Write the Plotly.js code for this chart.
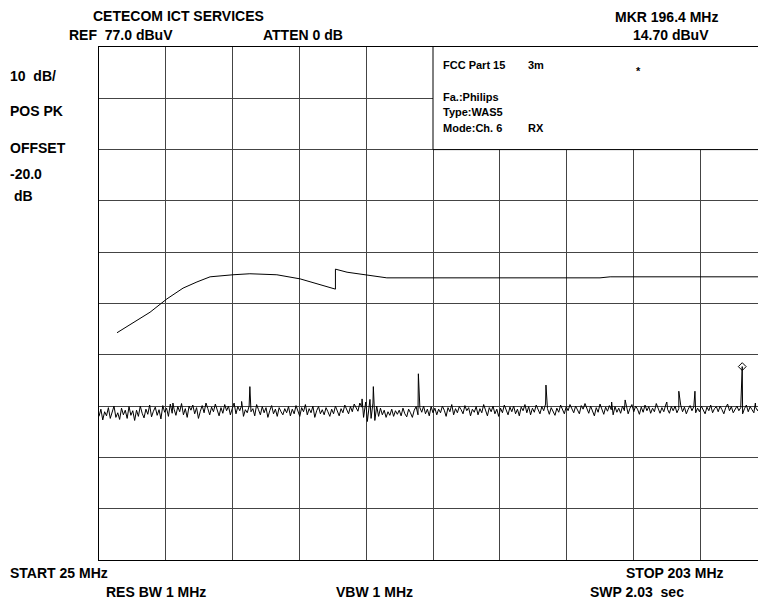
<!DOCTYPE html>
<html>
<head>
<meta charset="utf-8">
<script src="https://cdn.plot.ly/plotly-3.0.1.min.js"></script>
<style>html,body{margin:0;padding:0;background:#fff;}#chart{width:758px;height:603px;}</style>
</head>
<body>
<div id="chart"></div>
<script>
// ---- Data ----
const sweepStart = 25;      // MHz, first sweep point
const sweepStep = 0.5;      // MHz between sweep points
const noiseLevel = [
5.0,6.4,4.3,5.9,5.1,6.7,4.6,6.0,7.0,4.8,5.7,4.4,6.6,5.3,6.2,4.6,6.9,5.2,6.1,4.2,
6.2,5.0,7.0,5.6,4.7,6.4,5.4,7.2,4.9,6.0,6.8,5.2,6.3,4.5,7.1,5.8,6.6,5.0,7.4,5.6,
6.4,5.2,6.9,5.9,7.5,5.3,6.5,4.8,7.0,6.2,7.2,5.5,6.7,4.6,6.0,7.1,5.7,7.6,6.5,5.3,
6.8,5.9,7.4,6.2,5.1,6.7,5.6,7.3,6.1,7.0,5.3,6.5,7.6,5.5,6.9,6.1,7.1,5.0,6.3,5.7,
7.0,5.9,6.5,5.1,7.3,6.3,5.3,6.9,5.7,6.7,4.8,6.1,7.1,5.5,6.4,5.0,6.7,5.9,5.3,6.5,
5.7,6.9,5.1,6.4,5.5,7.1,6.1,5.0,6.7,5.9,7.3,5.3,6.5,5.7,7.0,4.8,6.1,6.9,5.5,6.3,
5.3,6.7,5.9,5.0,6.4,5.5,7.0,6.1,5.1,6.5,5.7,7.2,6.3,5.5,6.9,5.9,7.4,6.6,6.0,7.6,
6.8,4.8,7.4,4.0,7.2,4.6,7.6,4.2,7.0,5.0,6.6,5.3,6.2,4.8,5.9,5.2,6.4,5.0,6.1,5.4,
6.2,5.1,6.6,5.5,4.9,6.4,5.7,4.8,6.2,6.9,5.3,6.7,5.8,7.0,5.5,6.4,5.1,6.9,5.7,6.6,
5.3,6.4,5.7,7.0,6.2,5.0,6.7,5.9,7.3,5.3,6.5,5.7,6.9,6.3,5.5,7.1,6.1,6.7,5.1,6.4,
5.8,6.9,5.3,6.5,5.7,7.3,6.1,5.1,6.7,5.9,7.0,5.5,6.4,5.0,6.6,5.7,7.2,6.1,5.3,6.8,
5.9,7.0,5.5,6.4,5.1,6.8,6.1,7.3,5.7,6.9,5.3,6.6,5.8,7.2,6.3,5.5,6.9,6.1,7.4,6.5,
5.4,6.7,6.0,5.2,6.6,5.8,7.2,6.3,5.5,6.9,6.1,7.3,6.5,5.7,7.0,6.2,5.5,7.1,6.4,7.5,
6.4,5.6,7.0,6.0,5.1,6.7,5.8,7.4,6.2,5.4,6.8,6.0,7.1,6.3,5.3,6.9,5.8,6.6,5.6,7.0,
6.1,6.9,5.5,6.6,7.3,5.9,7.0,6.4,5.4,6.8,5.8,7.2,6.1,6.9,5.6,6.6,5.9,7.5,6.4,5.6,
6.7,5.9,7.2,6.4,5.6,6.9,6.1,7.0,5.7,6.5,7.2,5.9,6.8,5.5,6.4,7.1,6.1,6.9,5.7,6.6,
5.9,7.0,6.3,5.5,6.8,6.1,7.2,5.7,6.5,6.9,5.9,7.0,6.3,5.5,6.7,7.4,6.1,6.9,5.7,6.5,
7.0,6.1,6.7,5.5,6.5,7.2,5.9,6.9,6.3,5.7,6.7,6.1,7.0,5.9,6.5,5.5,6.9,6.3,5.7,6.7
];
const spikeFreq  = [44.7, 63.0, 65.2, 95.1, 96.1, 97.2, 98.1, 110.1, 144.1, 161.6, 165.2, 176.3, 179.5, 183.8, 196.4, 199.9];
const spikeLevel = [7.6,  7.9,  10.8, 8.4,  7.8,  8.3,  10.8, 13.3,  11.1,  7.8,   8.2,   7.8,   9.9,   9.9,   14.7,  7.6];

const limitFreq  = [29.8, 34.1, 38.6, 43.1, 47.4, 51.1, 54.6, 60.7, 65.2, 72.4, 78.6, 88.0, 88.0, 91.1, 96.4, 101.7, 158.5, 161.2, 200.6];
const limitLevel = [21.3, 23.2, 25.3, 27.9, 30.0, 31.2, 32.2, 32.6, 32.8, 32.6, 31.8, 29.8, 33.7, 33.1, 32.6, 32.0, 32.0, 32.2, 32.2];

const markerFreq  = [196.4];
const markerLevel = [14.7];

const refLevel = 77;   // dBuV top of screen
const dbPerDiv = 10;
const startFreq = 25, stopFreq = 203;

// ---- Build trace ----
const pts = [];
noiseLevel.forEach((v, i) => pts.push([sweepStart + sweepStep * i, v]));
spikeFreq.forEach((f, i) => pts.push([f, spikeLevel[i]]));
pts.sort((a, b) => a[0] - b[0]);

const FONT = 'Liberation Sans, Arial, Helvetica, sans-serif';
const plotL = 99, plotT = 47, plotB = 560, plotR = 758;
const fullWidthPx = 668; // 10 divisions, screen cropped on the right
const xMax = startFreq + (stopFreq - startFreq) * (plotR - plotL) / fullWidthPx;

const traces = [
  {x: pts.map(p => p[0]), y: pts.map(p => p[1]), mode: 'lines', type: 'scatter',
   line: {color: '#000', width: 1}, hoverinfo: 'skip'},
  {x: limitFreq, y: limitLevel, mode: 'lines', type: 'scatter',
   line: {color: '#000', width: 1}, hoverinfo: 'skip'},
  {x: markerFreq, y: markerLevel, mode: 'markers', type: 'scatter',
   marker: {symbol: 'diamond-open', size: 6, color: '#000', line: {width: 1, color: '#000'}}, hoverinfo: 'skip'}
];

function ann(text, px, py, size) {
  return {text: '<b>' + text + '</b>', xref: 'paper', yref: 'paper', x: 0, y: 1,
    xanchor: 'left', yanchor: 'middle', xshift: px - plotL - 2, yshift: plotT - py,
    showarrow: false, font: {family: FONT, size: size || 14, color: '#000'}};
}
const nb = '\u00a0';
const annotations = [
  ann('CETECOM ICT SERVICES', 93, 16),
  ann('REF' + nb + nb + '77.0 dBuV', 69, 35),
  ann('ATTEN 0 dB', 263, 35),
  ann('MKR 196.4 MHz', 615, 17),
  ann('14.70 dBuV', 633, 35),
  ann('10' + nb + nb + 'dB/', 10, 76),
  ann('POS PK', 10, 111),
  ann('OFFSET', 10, 148),
  ann('-20.0', 10, 174),
  ann(nb + 'dB', 10, 196),
  ann('START 25 MHz', 10, 573),
  ann('STOP 203 MHz', 626, 573),
  ann('RES BW 1 MHz', 106, 592),
  ann('VBW 1 MHz', 336, 592),
  ann('SWP 2.03' + nb + nb + 'sec', 590, 592),
  ann('FCC Part 15', 443, 65, 11),
  ann('3m', 528, 65, 11),
  ann('*', 636, 71, 11),
  ann('Fa.:Philips', 443, 97, 11),
  ann('Type:WAS5', 443, 112, 11),
  ann('Mode:Ch. 6', 443, 128, 11),
  ann('RX', 528, 128, 11)
];

const layout = {
  width: 758, height: 603,
  margin: {l: plotL, r: 758 - plotR, t: plotT, b: 603 - plotB, pad: 0},
  paper_bgcolor: '#fff', plot_bgcolor: '#fff',
  showlegend: false,
  xaxis: {range: [startFreq, xMax], tick0: startFreq, dtick: (stopFreq - startFreq) / 10,
    showgrid: true, gridcolor: '#444', gridwidth: 1, zeroline: false,
    showline: true, mirror: true, linecolor: '#000', linewidth: 1,
    showticklabels: false, ticks: '', fixedrange: true},
  yaxis: {range: [refLevel - 10 * dbPerDiv, refLevel], tick0: refLevel, dtick: dbPerDiv,
    showgrid: true, gridcolor: '#444', gridwidth: 1, zeroline: false,
    showline: true, mirror: false, linecolor: '#000', linewidth: 1,
    showticklabels: false, ticks: '', fixedrange: true},
  shapes: [
    {type: 'rect', xref: 'x', yref: 'y', layer: 'between',
     x0: startFreq + 5 * (stopFreq - startFreq) / 10, x1: stopFreq + 20,
     y0: refLevel - 2 * dbPerDiv, y1: refLevel + 5,
     fillcolor: '#fff', line: {color: '#000', width: 1}}
  ],
  annotations: annotations
};

Plotly.newPlot('chart', traces, layout, {displayModeBar: false, staticPlot: true});
</script>
</body>
</html>
